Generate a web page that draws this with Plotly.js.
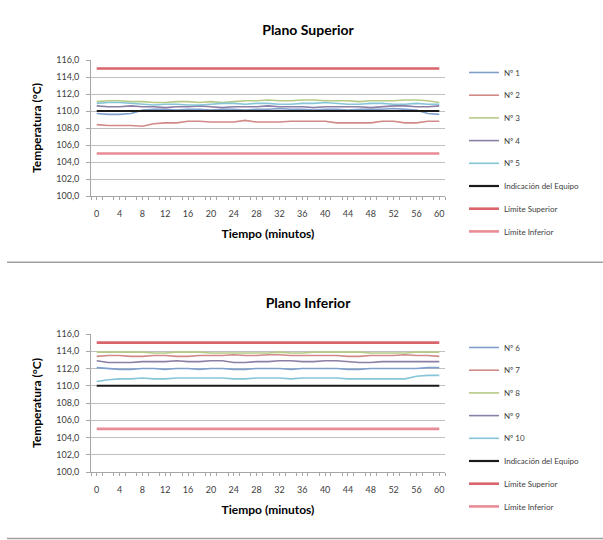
<!DOCTYPE html>
<html>
<head>
<meta charset="utf-8">
<script src="https://cdn.plot.ly/plotly-3.0.1.min.js"></script>
<style>
html,body{margin:0;padding:0;background:#fff;}
#c1,#c2{width:603px;height:270px;}
</style>
</head>
<body>
<div id="c1"></div>
<div id="c2"></div>
<script>
// ---- data ----
const minutes = [0,2,4,6,8,10,12,14,16,18,20,22,24,26,28,30,32,34,36,38,40,42,44,46,48,50,52,54,56,58,60];
const xTickVals = [0,4,8,12,16,20,24,28,32,36,40,44,48,52,56,60];
const yTickVals = [100,102,104,106,108,110,112,114,116];

const titleTop = "Plano Superior";
const titleBottom = "Plano Inferior";

const namesTop = ["Nº 1","Nº 2","Nº 3","Nº 4","Nº 5"];
const namesBottom = ["Nº 6","Nº 7","Nº 8","Nº 9","Nº 10"];

const n1 = [109.7,109.6,109.6,109.7,110.1,110.2,110.2,110.1,110.2,110.2,110.1,110.2,110.2,110.1,110.2,110.2,110.3,110.2,110.2,110.1,110.2,110.2,110.1,110.2,110.2,110.2,110.3,110.2,110.1,109.7,109.6];
const n2 = [108.4,108.3,108.3,108.3,108.2,108.5,108.6,108.6,108.8,108.8,108.7,108.7,108.7,108.9,108.7,108.7,108.7,108.8,108.8,108.8,108.8,108.6,108.6,108.6,108.6,108.8,108.8,108.6,108.6,108.8,108.8];
const n3 = [111.1,111.2,111.2,111.1,111.1,111.0,111.0,111.1,111.1,111.0,111.1,111.0,111.1,111.2,111.2,111.3,111.2,111.2,111.3,111.3,111.2,111.2,111.2,111.1,111.2,111.2,111.2,111.3,111.3,111.2,111.0];
const n4 = [110.6,110.5,110.5,110.6,110.5,110.5,110.4,110.5,110.5,110.6,110.5,110.4,110.5,110.5,110.5,110.6,110.5,110.5,110.5,110.4,110.5,110.5,110.5,110.5,110.4,110.5,110.6,110.6,110.5,110.5,110.6];
const n5 = [110.9,111.0,111.0,110.9,110.8,110.7,110.8,110.8,110.7,110.7,110.8,110.9,110.9,110.8,110.9,110.9,110.8,110.8,110.9,110.9,111.0,110.9,110.8,110.8,110.9,110.9,110.8,110.8,110.9,110.8,110.8];

const n6 = [112.1,112.0,111.9,111.9,112.0,112.0,111.9,112.0,112.0,111.9,112.0,112.0,111.9,111.9,112.0,112.0,112.0,111.9,112.0,112.0,112.0,112.0,111.9,111.9,112.0,112.0,112.0,112.0,112.0,112.1,112.1];
const n7 = [113.4,113.5,113.5,113.4,113.4,113.5,113.5,113.4,113.4,113.5,113.5,113.5,113.6,113.5,113.5,113.6,113.6,113.5,113.5,113.5,113.5,113.5,113.4,113.4,113.5,113.5,113.5,113.6,113.5,113.5,113.4];
const n8 = [113.9,113.9,113.9,113.9,113.9,113.8,113.8,113.9,113.9,113.9,113.8,113.8,113.8,113.8,113.8,113.8,113.9,113.8,113.8,113.9,113.9,113.9,113.9,113.9,113.8,113.8,113.8,113.8,113.9,113.9,113.9];
const n9 = [112.9,112.7,112.7,112.7,112.8,112.8,112.8,112.9,112.8,112.8,112.9,112.9,112.7,112.7,112.8,112.8,112.9,112.9,112.8,112.8,112.9,112.9,112.8,112.7,112.7,112.8,112.8,112.8,112.8,112.8,112.8];
const n10 = [110.5,110.7,110.8,110.8,110.9,110.8,110.8,110.9,110.9,110.9,110.9,110.9,110.8,110.8,110.9,110.9,110.9,110.8,110.9,110.9,110.9,110.9,110.8,110.8,110.8,110.8,110.8,110.8,111.1,111.2,111.2];

const equipoName = "Indicación del Equipo";
const equipoValue = 110;
const limSupName = "Límite Superior";
const limSupValue = 115;
const limInfName = "Límite Inferior";
const limInfValue = 105;

const xTitle = "Tiempo (minutos)";
const yTitle = "Temperatura (°C)";

// ---- styles ----
const seriesColors = ["#7f9fcc","#d08a88","#b5cb86","#8c7fa6","#86c6d8"];
const equipoColor = "#1a1a1a";
const limSupColor = "#d9646c";
const limInfColor = "#e98c96";
const FONT = "Lato, 'Open Sans', sans-serif";

function build(divId, title, names, series, plotTop, plotBottom, titleY, legendTop, sepAbs) {
  const H = 270, W = 603;
  const L = 91, R = 445;
  const traces = [];
  names.forEach((nm, i) => {
    traces.push({x: minutes, y: series[i], name: nm, type: 'scatter', mode: 'lines',
      line: {color: seriesColors[i], width: 1.6}, legendgroup: 'g'+i});
  });
  traces.push({x: minutes, y: minutes.map(() => equipoValue), name: equipoName, type: 'scatter', mode: 'lines',
    line: {color: equipoColor, width: 2.2}, legendgroup: 'g5'});
  traces.push({x: minutes, y: minutes.map(() => limSupValue), name: limSupName, type: 'scatter', mode: 'lines',
    line: {color: limSupColor, width: 2.6}, legendgroup: 'g6'});
  traces.push({x: minutes, y: minutes.map(() => limInfValue), name: limInfName, type: 'scatter', mode: 'lines',
    line: {color: limInfColor, width: 2.6}, legendgroup: 'g7'});

  const plotH = plotBottom - plotTop;
  const sepY = (plotBottom - sepAbs) / plotH; // separator below chart
  const layout = {
    width: W, height: H,
    margin: {l: L, r: W - R, t: plotTop, b: H - plotBottom, pad: 0},
    paper_bgcolor: '#fff', plot_bgcolor: '#fff',
    separators: ',.',
    font: {family: FONT, color: '#404040', size: 9},
    title: {text: '<b>' + title + '</b>', font: {family: FONT, size: 14, color: '#000'},
      x: 308 / W, xanchor: 'center', xref: 'container', y: 1 - titleY / H, yanchor: 'middle', yref: 'container'},
    showlegend: true,
    legend: {x: 464 / W, xref: 'container', xanchor: 'left', y: 1 - legendTop / H, yref: 'container', yanchor: 'top',
      font: {family: FONT, size: 8, color: '#404040'}, itemwidth: 30, tracegroupgap: 3.7,
      maxheight: 260,
      bgcolor: 'rgba(0,0,0,0)', traceorder: 'grouped'},
    xaxis: {range: [-1, 61], tickmode: 'array', tickvals: xTickVals, ticktext: xTickVals.map(String),
      showgrid: false, zeroline: false, showline: true, linecolor: '#a6a6a6', linewidth: 1,
      ticks: 'outside', ticklen: 3, tickcolor: '#a6a6a6', ticklabelstandoff: 6,
      minor: {tickmode: 'linear', tick0: -1, dtick: 2, ticks: 'outside', ticklen: 3, tickcolor: '#a6a6a6'},
      tickfont: {family: FONT, size: 9, color: '#404040'},
      title: {text: '<b>' + xTitle + '</b>', font: {family: FONT, size: 12, color: '#000'}, standoff: 11},
      fixedrange: true},
    yaxis: {range: [100, 116], tickmode: 'array', tickvals: yTickVals, tickformat: '.1f',
      showgrid: true, gridcolor: '#bfbfbf', gridwidth: 1, zeroline: false,
      showline: true, linecolor: '#a6a6a6', linewidth: 1,
      ticks: 'outside', ticklen: 4, tickcolor: '#a6a6a6', ticklabelstandoff: 5,
      tickfont: {family: FONT, size: 9, color: '#404040'},
      title: {text: '<b>' + yTitle + '</b>', font: {family: FONT, size: 12, color: '#000'}, standoff: 12},
      fixedrange: true},
    shapes: [{type: 'line', xref: 'paper', yref: 'paper',
      x0: (7 - L) / (R - L), x1: (603 - L) / (R - L), y0: sepY, y1: sepY,
      line: {color: '#a0a0a0', width: 1.5}}]
  };
  Plotly.newPlot(divId, traces, layout, {displayModeBar: false, staticPlot: true});
}

build('c1', titleTop, namesTop, [n1, n2, n3, n4, n5], 59.5, 196, 30, 58, 262.5);
build('c2', titleBottom, namesBottom, [n6, n7, n8, n9, n10], 64, 202, 33, 63, 268.5);
</script>
</body>
</html>
